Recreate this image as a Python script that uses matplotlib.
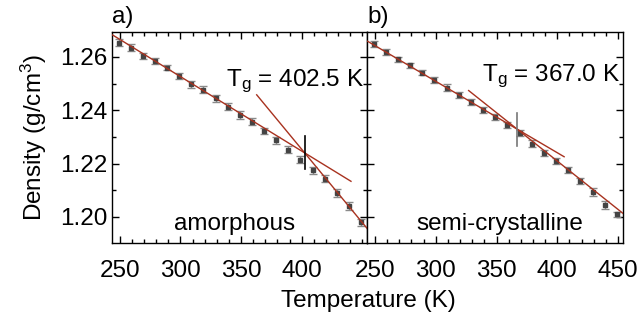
import numpy as np
import matplotlib
matplotlib.use("Agg")
import matplotlib.pyplot as plt
from matplotlib.ticker import MultipleLocator

plt.rcParams["font.family"] = ["Liberation Sans", "DejaVu Sans"]
plt.rcParams["mathtext.fontset"] = "custom"
plt.rcParams["mathtext.rm"] = "Liberation Sans"
plt.rcParams["mathtext.it"] = "Liberation Sans"

# temperatures (K), same grid for both samples
temp = [249, 259, 269, 279, 289, 299, 309, 319, 329, 339, 349,
        359, 369, 379, 389, 399, 409, 419, 429, 439, 449]

# a) amorphous
dens_a = [1.2654, 1.2635, 1.2604, 1.2585, 1.2560, 1.2528, 1.2497, 1.2476, 1.2444, 1.2413, 1.2381,
          1.2356, 1.2322, 1.2287, 1.2252, 1.2215, 1.2174, 1.2143, 1.2088, 1.2039, 1.1979]
err_a = [0.0012, 0.0012, 0.0012, 0.0012, 0.0011, 0.0012, 0.0013, 0.0013, 0.0014, 0.0013, 0.0015,
         0.0013, 0.0012, 0.0012, 0.0013, 0.0013, 0.0014, 0.0013, 0.0015, 0.0015, 0.0012]

# b) semi-crystalline
dens_b = [1.2648, 1.2619, 1.2591, 1.2569, 1.2541, 1.2513, 1.2485, 1.2456, 1.2431, 1.2400, 1.2373,
          1.2344, 1.2313, 1.2275, 1.2240, 1.2210, 1.2175, 1.2134, 1.2094, 1.2044, 1.2009]
err_b = [0.0010, 0.0010, 0.0010, 0.0010, 0.0010, 0.0010, 0.0012, 0.0011, 0.0011, 0.0011, 0.0011,
         0.0012, 0.0011, 0.0012, 0.0012, 0.0011, 0.0011, 0.0011, 0.0014, 0.0016, 0.0011]

# fitted lines: (T_start, T_end, slope) through the intersection (Tg, rho_g)
tg_a, rho_a = 402.5, 1.2240
glass_a = (244.0, 440.7, -0.000279)
melt_a = (362.9, 460.0, -0.00055)
tg_b, rho_b = 367.0, 1.2329
glass_b = (244.0, 405.6, -0.000268)
melt_b = (327.1, 460.0, -0.000363)

red = "#a8321f"
fs = 17.5

fig = plt.figure(figsize=(6.41, 3.22), dpi=100)
ax_a = fig.add_axes([0.1747, 0.2453, 0.398, 0.655])
ax_b = fig.add_axes([0.5725, 0.2453, 0.3994, 0.655])

panels = [
    (ax_a, dens_a, err_a, tg_a, rho_a, glass_a, melt_a, "a)", "amorphous", 0.482, 0.744, "black"),
    (ax_b, dens_b, err_b, tg_b, rho_b, glass_b, melt_b, "b)", "semi-crystalline", 0.52, 0.77, "#777777"),
]

for ax, dens, err, tg, rho, glass, melt, tag, name, nx, ty, vcol in panels:
    ax.errorbar(temp, dens, yerr=err, fmt="s", ms=2.6, color="#444444",
                ecolor="#8a8a8a", elinewidth=1.0, capsize=2.8, capthick=1.0, zorder=2)
    for t0, t1, k in (glass, melt):
        tt = np.array([t0, t1])
        ax.plot(tt, rho + k * (tt - tg), color=red, lw=1.0, zorder=3)
    ax.plot([tg, tg], [rho - 0.0062, rho + 0.0062], color=vcol, lw=1.2, zorder=4)

    ax.set_xlim(243.5, 454)
    ax.set_ylim(1.1902, 1.2693)
    ax.xaxis.set_major_locator(MultipleLocator(50))
    ax.xaxis.set_minor_locator(MultipleLocator(10))
    ax.yaxis.set_major_locator(MultipleLocator(0.02))
    ax.yaxis.set_minor_locator(MultipleLocator(0.01))
    ax.tick_params(which="both", direction="in", top=True, right=True, labelsize=fs)
    ax.tick_params(which="major", length=5, width=1)
    ax.tick_params(which="minor", length=3, width=1)
    ax.tick_params(axis="x", pad=12)
    for s in ax.spines.values():
        s.set_linewidth(1.0)

    ax.text(0.0, 1.02, tag, transform=ax.transAxes, fontsize=fs, ha="left", va="bottom")
    ax.text(nx, 0.06, name, transform=ax.transAxes, fontsize=fs, ha="center", va="baseline")
    ax.text(0.99, ty, r"T$_\mathregular{g}$ = %.1f K" % tg, transform=ax.transAxes,
            fontsize=fs, ha="right", va="baseline")

ax_a.set_xticks([250, 300, 350, 400])
ax_a.set_yticks([1.20, 1.22, 1.24, 1.26])
ax_a.set_yticklabels(["1.20", "1.22", "1.24", "1.26"])
ax_a.set_ylabel(r"Density (g/cm$^\mathregular{3}$)", fontsize=fs, labelpad=8)
ax_b.set_xticks([250, 300, 350, 400, 450])
ax_b.tick_params(axis="y", labelleft=False)

fig.text(0.575, 0.03, "Temperature (K)", fontsize=fs, ha="center", va="bottom")

fig.savefig("out.png", dpi=100)
